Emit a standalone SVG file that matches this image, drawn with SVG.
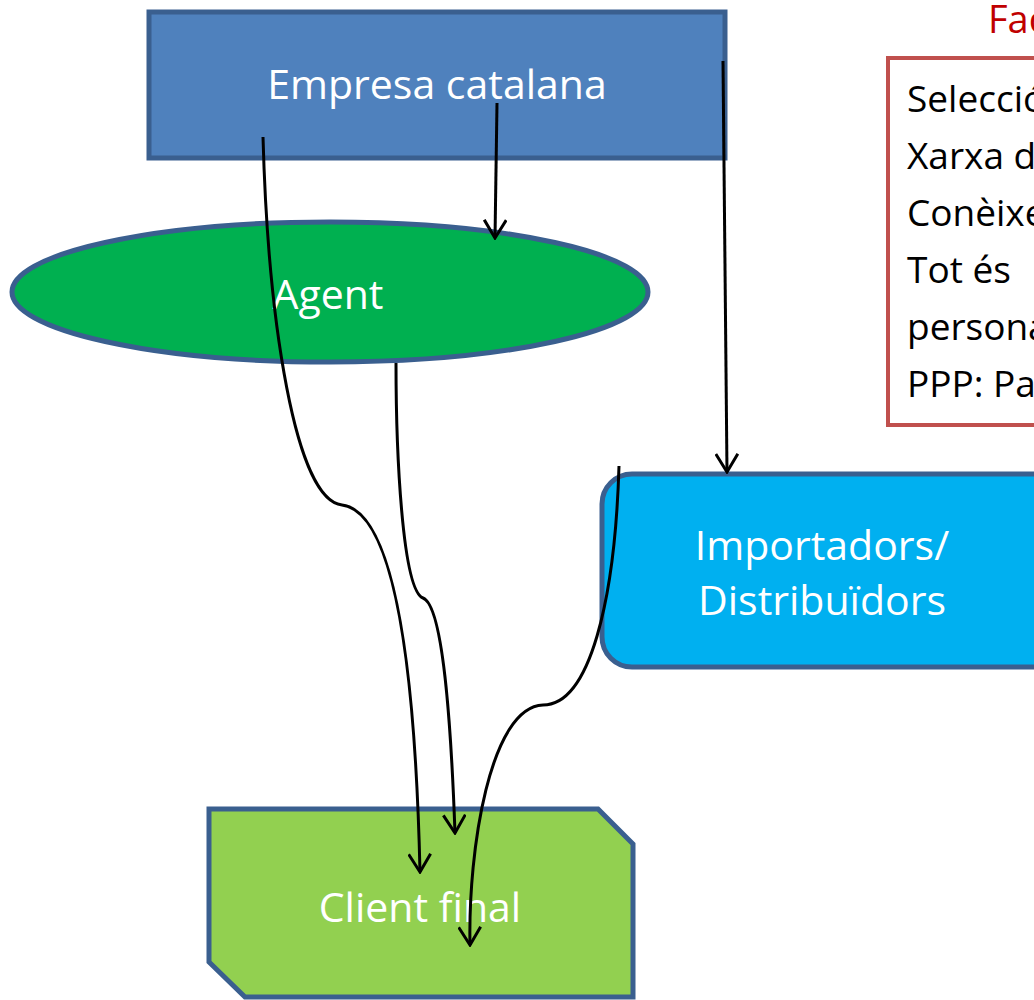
<svg xmlns="http://www.w3.org/2000/svg" width="1034" height="1000" viewBox="0 0 1034 1000">
<style>
.node{stroke:#3a5f8f;stroke-width:5}
.lbl{font-family:"Open Sans","Liberation Sans",sans-serif;fill:#ffffff;text-anchor:middle;font-size:41px}
.side{font-family:"Open Sans","Liberation Sans",sans-serif;fill:#000000;font-size:37px}
.conn{fill:none;stroke:#000000;stroke-width:3}
</style>
<defs>
<marker id="arr" viewBox="0 0 22 24" refX="20" refY="12" markerWidth="22" markerHeight="24" markerUnits="userSpaceOnUse" orient="auto">
<path d="M2,1 L20,12 L2,23" fill="none" stroke="#000" stroke-width="3"/>
</marker>
</defs>
<rect x="0" y="0" width="1034" height="1000" fill="#ffffff"/>
<g id="factors">
<text x="988" y="33" font-family="Open Sans,Liberation Sans,sans-serif" font-size="38" fill="#c00000">Factors</text>
<rect x="888" y="58" width="170" height="367" fill="#ffffff" stroke="#c0504d" stroke-width="4"/>
<text class="side" x="907" y="112">Selecció</text>
<text class="side" x="907" y="169">Xarxa de</text>
<text class="side" x="907" y="226">Conèixer</text>
<text class="side" x="907" y="283">Tot és</text>
<text class="side" x="907" y="340">personal</text>
<text class="side" x="907" y="397">PPP: Pa</text>
</g>
<g id="empresa">
<rect class="node" x="149" y="12" width="576" height="146" fill="#4f81bd"/>
<text class="lbl" x="437" y="99">Empresa catalana</text>
</g>
<g id="agent">
<ellipse class="node" cx="330" cy="292" rx="318" ry="70" fill="#00b050"/>
<text class="lbl" x="328" y="309">Agent</text>
</g>
<g id="importadors">
<rect class="node" x="602" y="474" width="460" height="193" rx="30" fill="#00b0f0"/>
<text class="lbl" x="822" y="560">Importadors/</text>
<text class="lbl" x="822" y="615">Distribuïdors</text>
</g>
<g id="client">
<path class="node" d="M209,809 L598,809 L633,844 L633,997 L245,997 L209,962 Z" fill="#92d050"/>
<text class="lbl" x="420" y="922">Client final</text>
</g>
<g id="connectors">
<path class="conn" marker-end="url(#arr)" d="M263,137 C268,320 295,500 342,505 C400,512 416,700 420,872"/>
<path class="conn" marker-end="url(#arr)" d="M497,103 L495,238"/>
<path class="conn" marker-end="url(#arr)" d="M723,61 L727,472"/>
<path class="conn" marker-end="url(#arr)" d="M396,363 C396,450 402,590 423,598 C445,606 452,750 455,833"/>
<path class="conn" marker-end="url(#arr)" d="M619,466 C615,600 590,705 543,705 C490,707 468,850 470,945"/>
</g>
</svg>
